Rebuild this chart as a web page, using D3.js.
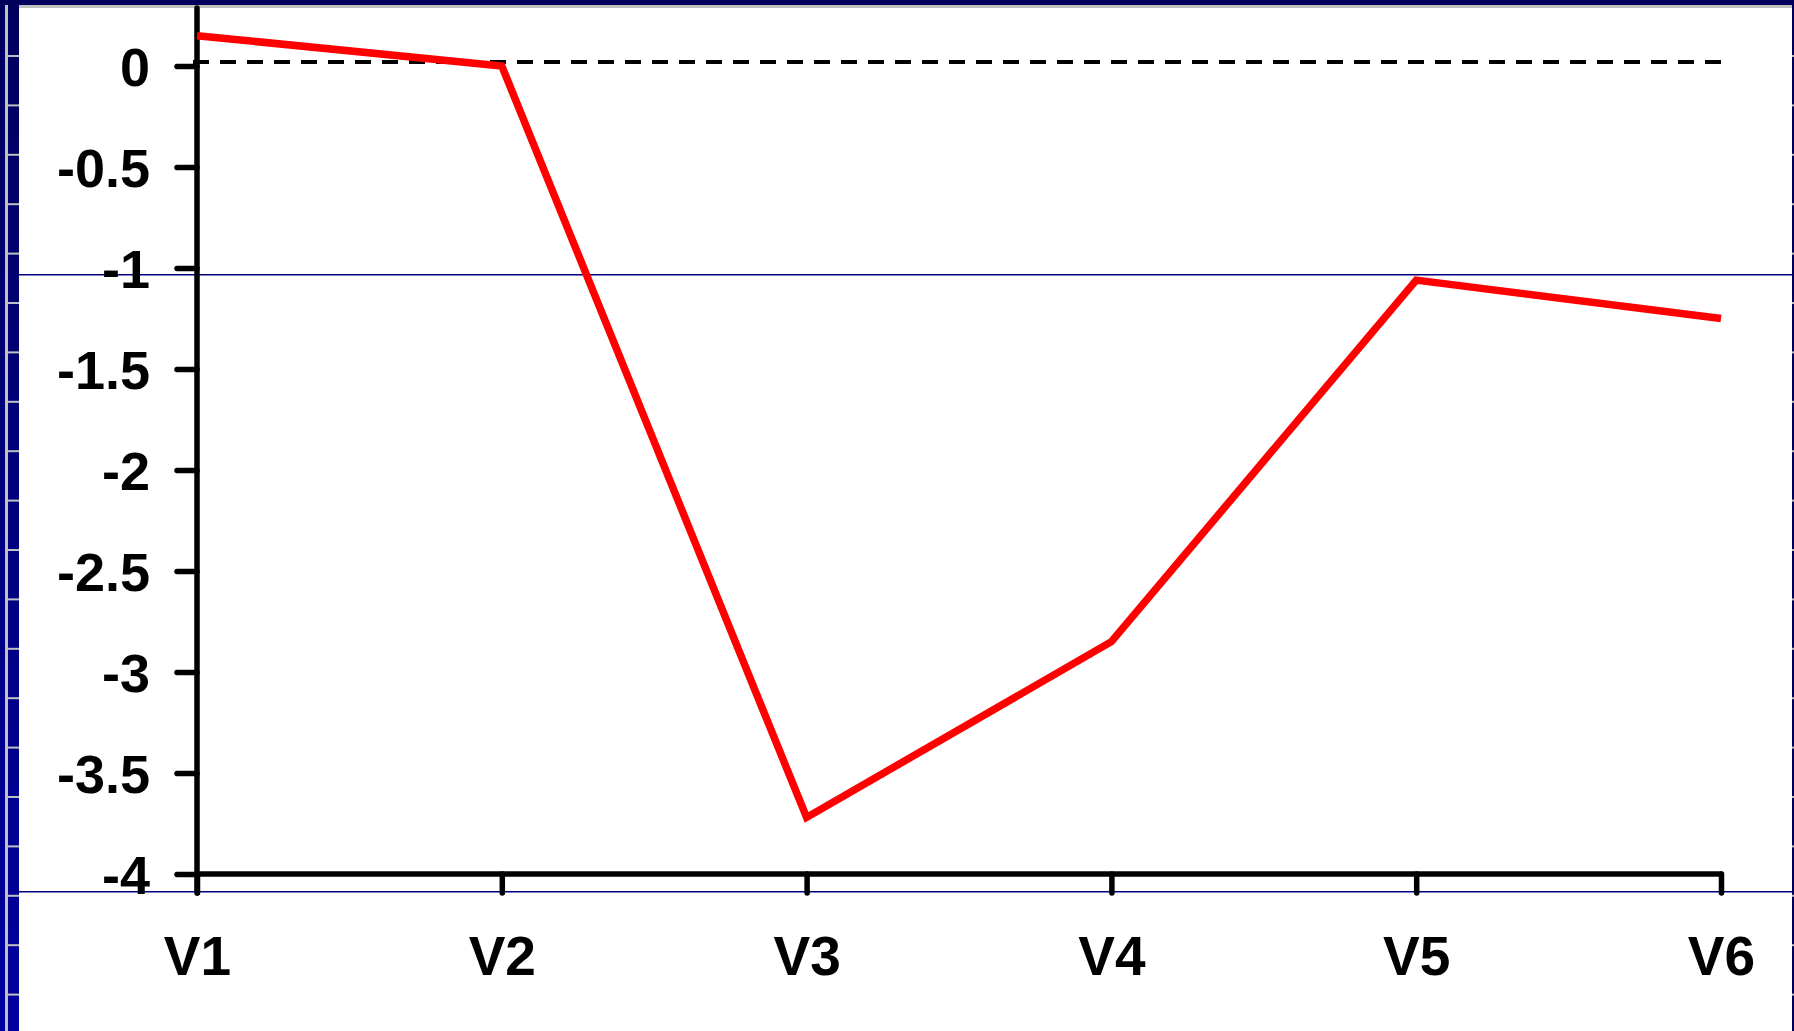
<!DOCTYPE html>
<html>
<head>
<meta charset="utf-8">
<script src="https://cdn.jsdelivr.net/npm/d3@7"></script>
<style>
  html, body { margin: 0; padding: 0; background: #ffffff; }
  svg { display: block; }
  text { font-family: "Liberation Sans", Arial, sans-serif; font-weight: bold; fill: #000; }
</style>
</head>
<body>
<svg id="chart" width="1794" height="1031"></svg>
<script>
// ---- data ----
const categories = ["V1", "V2", "V3", "V4", "V5", "V6"];
const values = [0.15, 0.0, -3.72, -2.85, -1.06, -1.25];
const yTicks = [0, -0.5, -1, -1.5, -2, -2.5, -3, -3.5, -4];
const referenceValue = 0.02;

// ---- layout ----
const W = 1794, H = 1031;
const svg = d3.select("#chart");

// slide frame
const defs = svg.append("defs");
const grad = defs.append("linearGradient").attr("id", "strip").attr("x1", 0).attr("y1", 0).attr("x2", 0).attr("y2", 1);
grad.append("stop").attr("offset", "0%").attr("stop-color", "#00005c");
grad.append("stop").attr("offset", "100%").attr("stop-color", "#0000a0");

svg.append("rect").attr("x", 0).attr("y", 0).attr("width", W).attr("height", 5).attr("fill", "#00005c");
svg.append("rect").attr("x", 5).attr("y", 5).attr("width", W - 7).attr("height", 3).attr("fill", "#c0c0c0");
svg.append("rect").attr("x", 0).attr("y", 0).attr("width", 19).attr("height", H).attr("fill", "url(#strip)");
svg.append("rect").attr("x", 5).attr("y", 5).attr("width", 3).attr("height", H - 5).attr("fill", "#c0c0c0");
const stripMarks = d3.range(56, H, 49.4);
svg.selectAll(".smark").data(stripMarks).enter().append("rect")
  .attr("x", 5).attr("y", d => d - 1).attr("width", 14).attr("height", 2).attr("fill", "#c0c0c0");
svg.append("rect").attr("x", W - 2).attr("y", 5).attr("width", 2).attr("height", H - 5).attr("fill", "#00005c");
svg.selectAll(".rmark").data(stripMarks).enter().append("rect")
  .attr("x", W - 2).attr("y", d => d - 1).attr("width", 2).attr("height", 2).attr("fill", "#c0c0c0");

// thin horizontal guide lines of the slide
[274, 891].forEach(yy => {
  svg.append("rect").attr("x", 19).attr("y", yy).attr("width", W - 21).attr("height", 1.5)
    .attr("fill", "#000080");
});

// scales
const x = d3.scalePoint().domain(categories).range([197, 1721]);
const y = d3.scaleLinear().domain([-4, 0]).range([874, 66]);
const yTop = y.invert(8);

const g = svg.append("g");

// reference dashed line
g.append("line")
  .attr("x1", x("V1") - 4).attr("x2", x("V6"))
  .attr("y1", y(referenceValue)).attr("y2", y(referenceValue))
  .attr("stroke", "#000").attr("stroke-width", 4)
  .attr("stroke-dasharray", "16 11");

// y axis
const yAxis = d3.axisLeft(y).tickValues(yTicks).tickSize(20).tickPadding(27).tickFormat(d => String(d));
const ya = g.append("g").attr("transform", `translate(${x("V1")},0)`).call(yAxis);
ya.select(".domain").remove();
ya.selectAll(".tick line").attr("stroke", "#000").attr("stroke-width", 5.5).attr("stroke-linecap", "round");
ya.selectAll(".tick text").attr("font-size", 54).attr("font-family", "Liberation Sans, Arial, sans-serif")
  .attr("font-weight", "bold").attr("fill", "#000").attr("dy", "0.36em");
g.append("line").attr("x1", x("V1")).attr("x2", x("V1")).attr("y1", y(yTop)).attr("y2", 893)
  .attr("stroke", "#000").attr("stroke-width", 5.5).attr("stroke-linecap", "round");

// x axis
const xAxis = d3.axisBottom(x).tickSize(19).tickPadding(0).tickFormat(d => d);
const xa = g.append("g").attr("transform", `translate(0,${y(-4)})`).call(xAxis);
xa.select(".domain").remove();
xa.selectAll(".tick line").attr("stroke", "#000").attr("stroke-width", 5.5).attr("stroke-linecap", "round");
xa.selectAll(".tick text").attr("font-size", 55).attr("font-family", "Liberation Sans, Arial, sans-serif")
  .attr("font-weight", "bold").attr("fill", "#000").attr("y", 0).attr("dy", 101);
g.append("line").attr("x1", x("V1")).attr("x2", x("V6")).attr("y1", y(-4)).attr("y2", y(-4))
  .attr("stroke", "#000").attr("stroke-width", 5.5).attr("stroke-linecap", "round");

// data line
const line = d3.line().x((d, i) => x(categories[i])).y(d => y(d));
g.append("path").datum(values).attr("d", line)
  .attr("fill", "none").attr("stroke", "#ff0000").attr("stroke-width", 7.5)
  .attr("stroke-linejoin", "miter");
</script>
</body>
</html>
